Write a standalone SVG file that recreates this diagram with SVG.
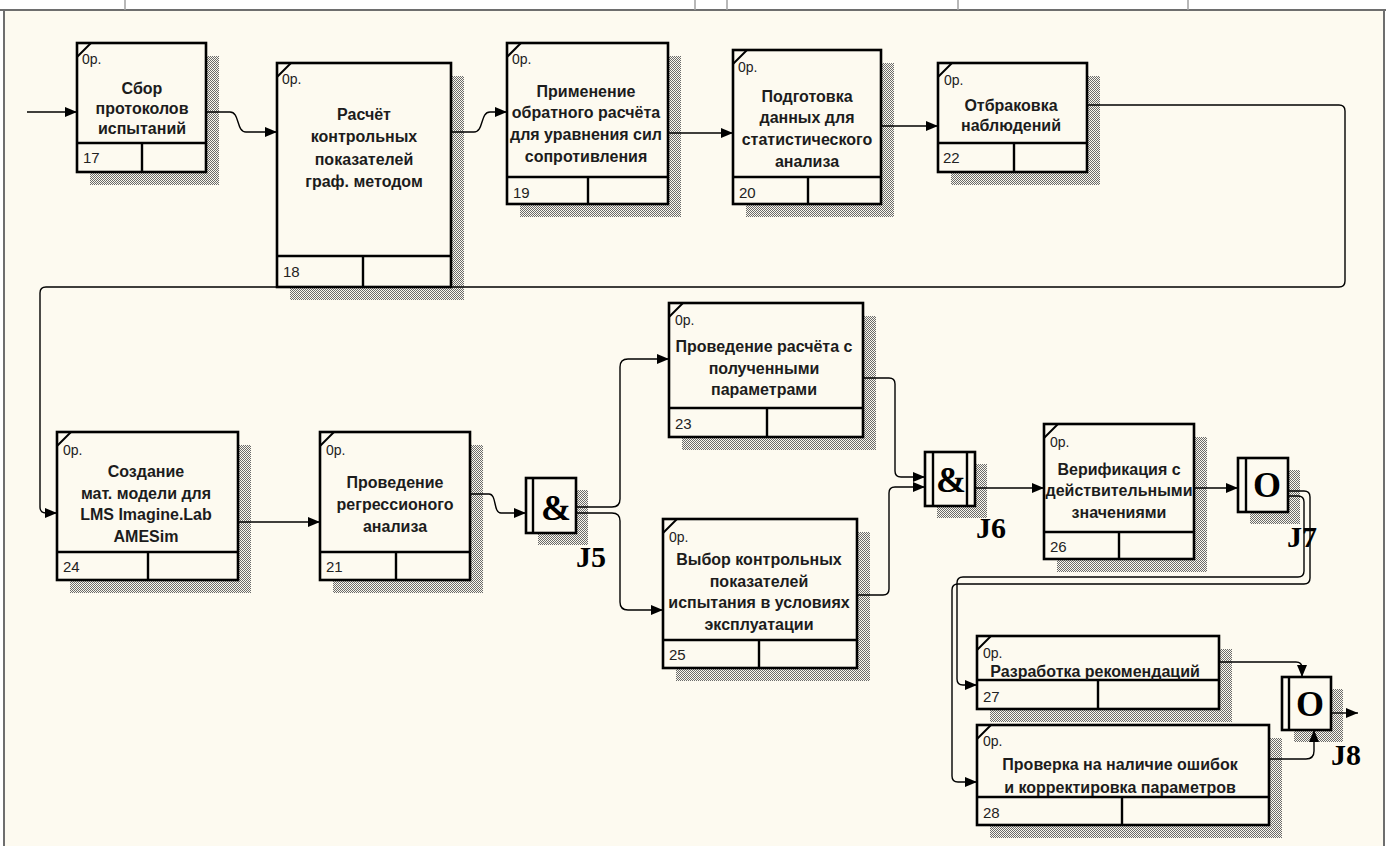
<svg xmlns="http://www.w3.org/2000/svg" width="1390" height="846" viewBox="0 0 1390 846">
  <defs>
    <pattern id="hatch" width="2" height="2" patternUnits="userSpaceOnUse">
      <rect width="2" height="2" fill="#fbf8ee"/>
      <rect x="0" y="0" width="1" height="1" fill="#6a6a6a"/>
      <rect x="1" y="1" width="1" height="1" fill="#6a6a6a"/>
    </pattern>
    <marker id="arrow" viewBox="0 0 12 10" refX="12" refY="5" markerWidth="12" markerHeight="10" markerUnits="userSpaceOnUse" orient="auto">
      <path d="M0,0 L12,5 L0,10 z" fill="#000"/>
    </marker>
    <style>
      .shadow { fill: url(#hatch); stroke: none; }
      .box { fill: #fdfaf0; stroke: #000; stroke-width: 2.6; }
      .div { stroke: #000; stroke-width: 2.4; fill: none; }
      .tick { stroke: #000; stroke-width: 2; }
      .ref { font-family: "Liberation Sans", Arial, sans-serif; font-size: 14px; fill: #222; }
      .num { font-family: "Liberation Sans", Arial, sans-serif; font-size: 15px; fill: #222; }
      .title { font-family: "Liberation Sans", Arial, sans-serif; font-size: 16px; font-weight: bold; fill: #1c1c1c; text-anchor: middle; }
      .jbox { fill: #fdfaf0; stroke: #000; stroke-width: 2.6; }
      .jsym { font-family: "Liberation Serif", "Times New Roman", serif; font-size: 36px; font-weight: bold; fill: #000; text-anchor: middle; }
      .jlabel { font-family: "Liberation Serif", "Times New Roman", serif; font-size: 30px; font-weight: bold; fill: #000; }
      .conn { fill: none; stroke: #000; stroke-width: 1.4; }
      .arr { marker-end: url(#arrow); }
      .frame { stroke: #6e6e6e; stroke-width: 2; fill: none; }
      .frametick { stroke: #a0a0a0; stroke-width: 1.5; }
    </style>
  </defs>

  <!-- sheet -->
  <rect x="0" y="0" width="1390" height="846" fill="#ffffff"/>
  <rect x="4" y="10" width="1380" height="836" fill="#fdfaf0"/>
  <g id="frame">
    <path class="frame" d="M0,10 H1386 M4,10 V846 M1384,10 V846"/>
    <line class="frametick" x1="125" y1="0" x2="125" y2="10"/>
    <line class="frametick" x1="695" y1="0" x2="695" y2="10"/>
    <line class="frametick" x1="727" y1="0" x2="727" y2="10"/>
    <line class="frametick" x1="958" y1="0" x2="958" y2="10"/>
    <line class="frametick" x1="1188" y1="0" x2="1188" y2="10"/>
  </g>

  <!-- activity 17 -->
  <g id="n17">
    <rect class="shadow" x="90" y="56" width="129" height="129"/>
    <rect class="box" x="77" y="43" width="129" height="129"/>
    <path class="div" d="M77,143 H206 M142,143 V172"/>
    <line class="tick" x1="77" y1="57" x2="91" y2="43"/>
    <text class="ref" x="82" y="64">0р.</text>
    <text class="title"><tspan x="142" y="94">Сбор</tspan><tspan x="142" y="114">протоколов</tspan><tspan x="142" y="134">испытаний</tspan></text>
    <text class="num" x="83" y="163">17</text>
  </g>

  <!-- activity 18 -->
  <g id="n18">
    <rect class="shadow" x="290" y="76" width="174" height="224"/>
    <rect class="box" x="277" y="63" width="174" height="224"/>
    <path class="div" d="M277,256 H451 M363,256 V287"/>
    <line class="tick" x1="277" y1="77" x2="291" y2="63"/>
    <text class="ref" x="282" y="84">0р.</text>
    <text class="title"><tspan x="364" y="120">Расчёт</tspan><tspan x="364" y="142">контрольных</tspan><tspan x="364" y="165">показателей</tspan><tspan x="364" y="187">граф. методом</tspan></text>
    <text class="num" x="283" y="277">18</text>
  </g>

  <!-- activity 19 -->
  <g id="n19">
    <rect class="shadow" x="520" y="56" width="161" height="161"/>
    <rect class="box" x="507" y="43" width="161" height="161"/>
    <path class="div" d="M507,177 H668 M588,177 V204"/>
    <line class="tick" x1="507" y1="57" x2="521" y2="43"/>
    <text class="ref" x="512" y="64">0р.</text>
    <text class="title"><tspan x="586" y="97">Применение</tspan><tspan x="586" y="118">обратного расчёта</tspan><tspan x="586" y="140">для уравнения сил</tspan><tspan x="586" y="162">сопротивления</tspan></text>
    <text class="num" x="513" y="198">19</text>
  </g>

  <!-- activity 20 -->
  <g id="n20">
    <rect class="shadow" x="746" y="63" width="148" height="154"/>
    <rect class="box" x="733" y="50" width="148" height="154"/>
    <path class="div" d="M733,177 H881 M808,177 V204"/>
    <line class="tick" x1="733" y1="64" x2="747" y2="50"/>
    <text class="ref" x="738" y="72">0р.</text>
    <text class="title"><tspan x="807" y="102">Подготовка</tspan><tspan x="807" y="123">данных для</tspan><tspan x="807" y="145">статистического</tspan><tspan x="807" y="167">анализа</tspan></text>
    <text class="num" x="739" y="198">20</text>
  </g>

  <!-- activity 22 -->
  <g id="n22">
    <rect class="shadow" x="951" y="76" width="149" height="109"/>
    <rect class="box" x="938" y="63" width="149" height="109"/>
    <path class="div" d="M938,143 H1087 M1014,143 V172"/>
    <line class="tick" x1="938" y1="77" x2="952" y2="63"/>
    <text class="ref" x="944" y="85">0р.</text>
    <text class="title"><tspan x="1011" y="111">Отбраковка</tspan><tspan x="1011" y="131">наблюдений</tspan></text>
    <text class="num" x="943" y="163">22</text>
  </g>

  <!-- activity 24 -->
  <g id="n24">
    <rect class="shadow" x="70" y="445" width="181" height="148"/>
    <rect class="box" x="57" y="432" width="181" height="148"/>
    <path class="div" d="M57,552 H238 M148,552 V580"/>
    <line class="tick" x1="57" y1="446" x2="71" y2="432"/>
    <text class="ref" x="63" y="455">0р.</text>
    <text class="title"><tspan x="146" y="477">Создание</tspan><tspan x="146" y="499">мат. модели для</tspan><tspan x="146" y="520">LMS Imagine.Lab</tspan><tspan x="146" y="542">AMESim</tspan></text>
    <text class="num" x="63" y="572">24</text>
  </g>

  <!-- activity 21 -->
  <g id="n21">
    <rect class="shadow" x="333" y="445" width="150" height="148"/>
    <rect class="box" x="320" y="432" width="150" height="148"/>
    <path class="div" d="M320,552 H470 M396,552 V580"/>
    <line class="tick" x1="320" y1="446" x2="334" y2="432"/>
    <text class="ref" x="326" y="455">0р.</text>
    <text class="title"><tspan x="395" y="488">Проведение</tspan><tspan x="395" y="510">регрессионого</tspan><tspan x="395" y="532">анализа</tspan></text>
    <text class="num" x="326" y="572">21</text>
  </g>

  <!-- activity 23 -->
  <g id="n23">
    <rect class="shadow" x="682" y="316" width="194" height="134"/>
    <rect class="box" x="669" y="303" width="194" height="134"/>
    <path class="div" d="M669,408 H863 M767,408 V437"/>
    <line class="tick" x1="669" y1="317" x2="683" y2="303"/>
    <text class="ref" x="675" y="325">0р.</text>
    <text class="title"><tspan x="764" y="352">Проведение расчёта с</tspan><tspan x="764" y="374">полученными</tspan><tspan x="764" y="395">параметрами</tspan></text>
    <text class="num" x="675" y="429">23</text>
  </g>

  <!-- activity 25 -->
  <g id="n25">
    <rect class="shadow" x="676" y="532" width="194" height="149"/>
    <rect class="box" x="663" y="519" width="194" height="149"/>
    <path class="div" d="M663,640 H857 M759,640 V668"/>
    <line class="tick" x1="663" y1="533" x2="677" y2="519"/>
    <text class="ref" x="669" y="542">0р.</text>
    <text class="title"><tspan x="759" y="565">Выбор контрольных</tspan><tspan x="759" y="587">показателей</tspan><tspan x="759" y="608">испытания в условиях</tspan><tspan x="759" y="630">эксплуатации</tspan></text>
    <text class="num" x="669" y="660">25</text>
  </g>

  <!-- activity 26 -->
  <g id="n26">
    <rect class="shadow" x="1057" y="437" width="150" height="135"/>
    <rect class="box" x="1044" y="424" width="150" height="135"/>
    <path class="div" d="M1044,532 H1194 M1119,532 V559"/>
    <line class="tick" x1="1044" y1="438" x2="1058" y2="424"/>
    <text class="ref" x="1050" y="447">0р.</text>
    <text class="title"><tspan x="1119" y="475">Верификация с</tspan><tspan x="1119" y="496">действительными</tspan><tspan x="1119" y="518">значениями</tspan></text>
    <text class="num" x="1050" y="552">26</text>
  </g>

  <!-- activity 27 -->
  <g id="n27">
    <rect class="shadow" x="990" y="649" width="242" height="73"/>
    <rect class="box" x="977" y="636" width="242" height="73"/>
    <path class="div" d="M977,680 H1219 M1098,680 V709"/>
    <line class="tick" x1="977" y1="650" x2="991" y2="636"/>
    <text class="ref" x="983" y="658">0р.</text>
    <text class="title" x="1095" y="677">Разработка рекомендаций</text>
    <text class="num" x="983" y="702">27</text>
  </g>

  <!-- activity 28 -->
  <g id="n28">
    <rect class="shadow" x="990" y="738" width="292" height="100"/>
    <rect class="box" x="977" y="725" width="292" height="100"/>
    <path class="div" d="M977,797 H1269 M1122,797 V825"/>
    <line class="tick" x1="977" y1="739" x2="991" y2="725"/>
    <text class="ref" x="983" y="746">0р.</text>
    <text class="title"><tspan x="1120" y="770">Проверка на наличие ошибок</tspan><tspan x="1120" y="793">и корректировка параметров</tspan></text>
    <text class="num" x="983" y="818">28</text>
  </g>

  <!-- junction J5 (AND, fan-out) -->
  <g id="j5">
    <rect class="shadow" x="538" y="490" width="50" height="55"/>
    <rect class="jbox" x="526" y="478" width="50" height="55"/>
    <line class="div" x1="533" y1="478" x2="533" y2="533"/>
    <text class="jsym" x="556" y="520">&amp;</text>
    <text class="jlabel" x="576" y="567">J5</text>
  </g>

  <!-- junction J6 (AND, fan-in) -->
  <g id="j6">
    <rect class="shadow" x="937" y="464" width="50" height="54"/>
    <rect class="jbox" x="925" y="452" width="50" height="54"/>
    <path class="div" d="M933,452 V506 M967,452 V506"/>
    <text class="jsym" x="951" y="492">&amp;</text>
    <text class="jlabel" x="976" y="538">J6</text>
  </g>

  <!-- junction J7 (OR, fan-out) -->
  <g id="j7">
    <rect class="shadow" x="1250" y="470" width="50" height="54"/>
    <rect class="jbox" x="1238" y="458" width="50" height="54"/>
    <line class="div" x1="1246" y1="458" x2="1246" y2="512"/>
    <text class="jsym" x="1267" y="497">O</text>
    <text class="jlabel" x="1287" y="547">J7</text>
  </g>

  <!-- junction J8 (OR, fan-in) -->
  <g id="j8">
    <rect class="shadow" x="1294" y="689" width="49" height="53"/>
    <rect class="jbox" x="1282" y="677" width="49" height="53"/>
    <line class="div" x1="1289" y1="677" x2="1289" y2="730"/>
    <text class="jsym" x="1310" y="716">O</text>
    <text class="jlabel" x="1331" y="765">J8</text>
  </g>

  <!-- arrows between activities and junctions -->
  <g id="connectors">
    <path class="conn arr" d="M27,112 H77"/>
    <path class="conn arr" d="M206,112 H230 C240,112 236,132 246,132 H277"/>
    <path class="conn arr" d="M451,132 H474 C484,132 480,112 490,112 H507"/>
    <path class="conn arr" d="M668,133 H733"/>
    <path class="conn arr" d="M881,126 H938"/>
    <path class="conn arr" d="M1087,105 H1339 Q1345,105 1345,111 V281 Q1345,287 1339,287 H46 Q40,287 40,293 V507 Q40,513 46,513 H57"/>
    <path class="conn arr" d="M238,522 H320"/>
    <path class="conn arr" d="M470,494 H489 C497,494 493,513 501,513 H526"/>
    <path class="conn arr" d="M576,507 H612 Q620,507 620,499 V367 Q620,359 628,359 H669"/>
    <path class="conn arr" d="M576,513 H612 Q620,513 620,521 V602 Q620,610 628,610 H663"/>
    <path class="conn arr" d="M863,378 H889 Q895,378 895,384 V471 Q895,477 901,477 H925"/>
    <path class="conn arr" d="M857,595 H883 Q889,595 889,589 V493 Q889,487 895,487 H925"/>
    <path class="conn arr" d="M975,488 H1044"/>
    <path class="conn arr" d="M1194,488 H1238"/>
    <path class="conn arr" d="M1288,496 H1298 Q1304,496 1304,502 V571 Q1304,577 1298,577 H963 Q957,577 957,583 V679 Q957,685 963,685 H977"/>
    <path class="conn arr" d="M1288,491 H1304 Q1310,491 1310,497 V578 Q1310,584 1304,584 H958 Q952,584 952,590 V776 Q952,782 958,782 H977"/>
    <path class="conn arr" d="M1219,662 H1296 Q1302,662 1302,668 V677"/>
    <path class="conn arr" d="M1269,759 H1306 Q1314,759 1314,751 V730"/>
    <path class="conn arr" d="M1331,713 H1358"/>
  </g>
</svg>
